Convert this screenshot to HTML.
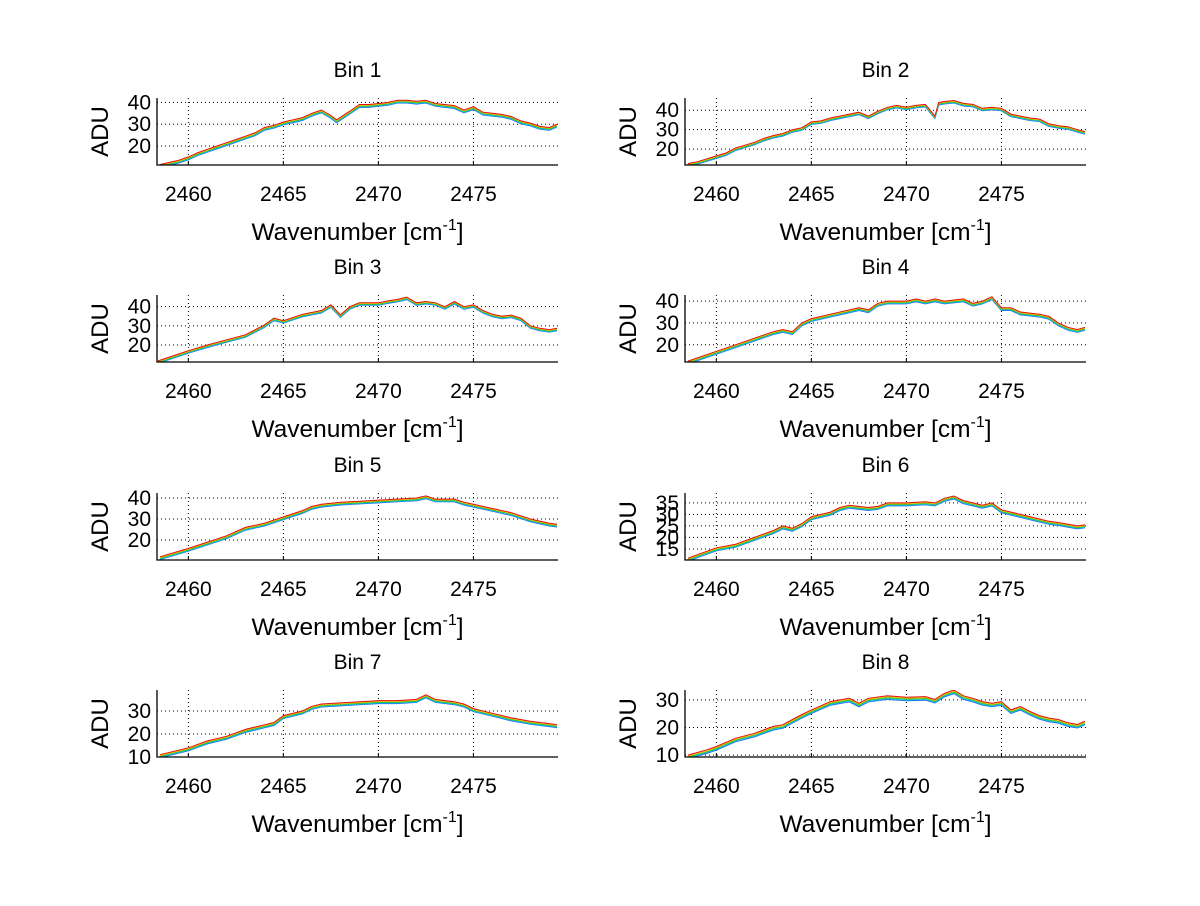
<!DOCTYPE html>
<html><head><meta charset="utf-8"><style>
body{margin:0;background:#fff;}
svg text{font-family:"Liberation Sans",sans-serif;fill:#000;}
</style></head><body>
<svg id="fig" xmlns="http://www.w3.org/2000/svg" width="1200" height="901" viewBox="0 0 1200 901"></svg>
<script>
const binTitles = ["Bin 1","Bin 2","Bin 3","Bin 4","Bin 5","Bin 6","Bin 7","Bin 8"];
const xTicks = [2460,2465,2470,2475];
const xRange = [2458.35,2479.45];
const yRanges = [[11.3,42],[11.8,46.3],[11.1,46.1],[12.1,42.8],[10.5,42.4],[10.2,39.3],[10,39.1],[9.3,33.6]];
const yTicks = [[20,30,40],[20,30,40],[20,30,40],[20,30,40],[20,30,40],[15,20,25,30,35],[10,20,30],[10,20,30]];
const seriesColors = ["#1f5fff","#10c0e0","#30c030","#f0c000","#e01010"];
const seriesOffsets = [-1.3,-1.05,-0.7,-0.35,0];

const wn1 = [2458.5,2459,2459.5,2460,2460.5,2461,2461.5,2462,2462.5,2463,2463.5,2464,2464.5,2465,2465.5,2466,2466.5,2467,2467.5,2467.8,2468.5,2469,2469.5,2470,2470.5,2471,2471.5,2472,2472.5,2473,2473.5,2474,2474.5,2475,2475.5,2476,2476.5,2477,2477.5,2478,2478.5,2479,2479.4];
const adu1 = [11.5,12.5,13.5,15,17,18.5,20,21.5,23,24.5,26,28.5,29.5,31,32,33,35,36.5,34,32,36,39,39,39.5,40,41,41,40.5,41,39.5,39,38.5,36.5,38,35.5,35,34.5,33.5,31.5,30.5,29,28.5,30];
const wn2 = [2458.5,2459,2459.5,2460,2460.5,2461,2461.5,2462,2462.5,2463,2463.5,2464,2464.5,2465,2465.5,2466,2466.5,2467,2467.5,2468,2468.5,2469,2469.5,2470,2470.5,2471,2471.5,2471.7,2472,2472.5,2473,2473.5,2474,2474.5,2475,2475.5,2476,2476.5,2477,2477.5,2478,2478.5,2479,2479.4];
const adu2 = [12.5,13.5,15,16.5,18,20.5,22,23.5,25.5,27,28,30,31,34,34.5,36,37,38,39,37,39.5,41.5,42.5,41.5,42.5,43,37,44,44.5,45,43.5,43,41,41.5,41,38,37,36,35.5,33,32,31.5,30,29];
const wn3 = [2458.4,2460,2461,2462,2463,2464,2464.5,2465,2466,2467,2467.5,2468,2468.5,2469,2470,2470.5,2471,2471.5,2472,2472.5,2473,2473.5,2474,2474.5,2475,2475.5,2476,2476.5,2477,2477.5,2478,2478.5,2479,2479.4];
const adu3 = [11.7,17,20,22.7,25.3,30.5,34,32.7,36,38,41,35.7,40,42,42,43,43.8,45,42,42.7,42,40,42.7,40,41,38,36,35,35.6,34,30,28.7,28,28.7];
const wn4 = [2458.5,2460,2461,2462,2463,2463.5,2464,2464.5,2465,2466,2467,2467.5,2468,2468.5,2469,2470,2470.5,2471,2471.5,2472,2473,2473.5,2474,2474.5,2475,2475.5,2476,2477,2477.5,2478,2478.5,2479,2479.4];
const adu4 = [12.5,17,20,23,26,27,26,30,32,34,36,37,36,39,40,40,41,40,41,40,41,39,40,42,37,37,35,34,33,30,28,27,28];
const wn5 = [2458.5,2460,2461,2462,2463,2464,2465,2466,2466.5,2467,2468,2469,2470,2471,2472,2472.5,2473,2474,2474.5,2475,2476,2477,2478,2479,2479.4];
const adu5 = [12,16,19,22,26,28,31,34,36,37,38,38.5,39,39.5,40,41,39.5,39.5,38,37,35,33,30,28,27.5];
const wn6 = [2458.5,2459,2460,2461,2462,2463,2463.5,2464,2464.5,2465,2465.5,2466,2466.5,2467,2468,2468.5,2469,2470,2471,2471.5,2472,2472.5,2473,2473.5,2474,2474.5,2475,2476,2477,2477.5,2478,2479,2479.4];
const adu6 = [11,12.5,15.5,17,20,23,25,24,26,29,30,31,33,34,33,33.5,35,35,35.5,35,37,38,36,35,34,35,32,30,28,27,26.5,25,25.5];
const wn7 = [2458.5,2460,2460.5,2461,2462,2463,2464,2464.5,2465,2466,2466.5,2467,2468,2469,2470,2471,2472,2472.5,2473,2474,2474.5,2475,2476,2477,2478,2479,2479.4];
const adu7 = [11,14,15.5,17,19,22,24,25,28,30,32,33,33.5,34,34.5,34.5,35,37,35,34,33,31,29,27,25.5,24.5,24];
const wn8 = [2458.5,2459.5,2460,2461,2462,2463,2463.5,2464,2464.5,2465,2466,2466.5,2467,2467.5,2468,2469,2470,2471,2471.5,2472,2472.5,2473,2473.5,2474,2474.5,2475,2475.5,2476,2476.5,2477,2477.5,2478,2478.5,2479,2479.4];
const adu8 = [10,11.9,13.1,16.1,17.9,20.4,21,22.9,24.7,26.4,29.4,30,30.6,28.8,30.6,31.5,31,31.2,30.2,32.4,33.6,31.5,30.6,29.4,28.8,29.4,26.4,27.6,25.8,24.3,23.4,22.9,21.7,21.1,22.3];
const wnAll = [wn1,wn2,wn3,wn4,wn5,wn6,wn7,wn8];
const aduAll = [adu1,adu2,adu3,adu4,adu5,adu6,adu7,adu8];

const NS = "http://www.w3.org/2000/svg";
const svg = document.getElementById("fig");
function mk(tag, attrs, parent){ const e=document.createElementNS(NS,tag); for(const k in attrs) e.setAttribute(k,attrs[k]); (parent||svg).appendChild(e); return e; }

const colX = [157,685], axW = 401;
const rowTop = [98,295,493,690], axH = 67;

for(let b=0;b<8;b++){
  const col=b%2, row=Math.floor(b/2);
  const L=colX[col], T=rowTop[row], R=L+axW, B=T+axH;
  const yr=yRanges[b];
  const sx=v=>L+(v-xRange[0])/(xRange[1]-xRange[0])*axW;
  const sy=v=>B-(v-yr[0])/(yr[1]-yr[0])*axH;
  const g=mk("g",{});
  
  
  const cp=mk("clipPath",{id:"cp"+b},g); mk("rect",{x:L,y:T,width:axW,height:axH},cp);
  xTicks.forEach(t=>{
    const ln=mk("line",{x1:sx(t),x2:sx(t),y1:T,y2:B,stroke:"#000","stroke-width":1,"stroke-dasharray":"1,3"},g);
    
    
    const tk=mk("line",{x1:sx(t),x2:sx(t),y1:B,y2:B-4,stroke:"#000"},g);
    
    
    const tl=mk("text",{x:sx(t),y:B+36,"font-size":21,"text-anchor":"middle"},g); tl.textContent=t;
    
    
  });
  yTicks[b].forEach(t=>{
    const ln=mk("line",{x1:L,x2:R,y1:sy(t),y2:sy(t),stroke:"#000","stroke-width":1,"stroke-dasharray":"1,3"},g);
    
    
    const tl=mk("text",{x:L-6,y:sy(t)+7,"font-size":21,"text-anchor":"end"},g); tl.textContent=t;
    
    
  });
  const sg=mk("g",{"clip-path":"url(#cp"+b+")"},g);
  seriesOffsets.forEach((off,si)=>{
    const pts=wnAll[b].map((w,i)=>sx(w).toFixed(1)+","+sy(aduAll[b][i]+off).toFixed(1)).join(" ");
    const pl=mk("polyline",{points:pts,fill:"none",stroke:seriesColors[si],"stroke-width":1},sg);
    
    
  });
  const ax=mk("path",{d:`M${L} ${T}V${B}H${R}`,stroke:"#000",fill:"none","stroke-width":1.3},g);
  
  
  const ti=mk("text",{x:L+axW/2,y:T-21,"font-size":21,"text-anchor":"middle"},g); ti.textContent=binTitles[b];
  
  
  const xl=mk("text",{x:L+axW/2,y:B+75,"font-size":24.5,"text-anchor":"middle"},g);
  xl.innerHTML='Wavenumber [cm<tspan dy="-10" font-size="16">-1</tspan><tspan dy="10">]</tspan>';
  
  
  const yl=mk("text",{x:0,y:0,"font-size":24,"text-anchor":"middle",transform:`translate(${L-49},${T+axH/2}) rotate(-90)`},g); yl.textContent="ADU";
  
  
}
</script>
</body></html>
